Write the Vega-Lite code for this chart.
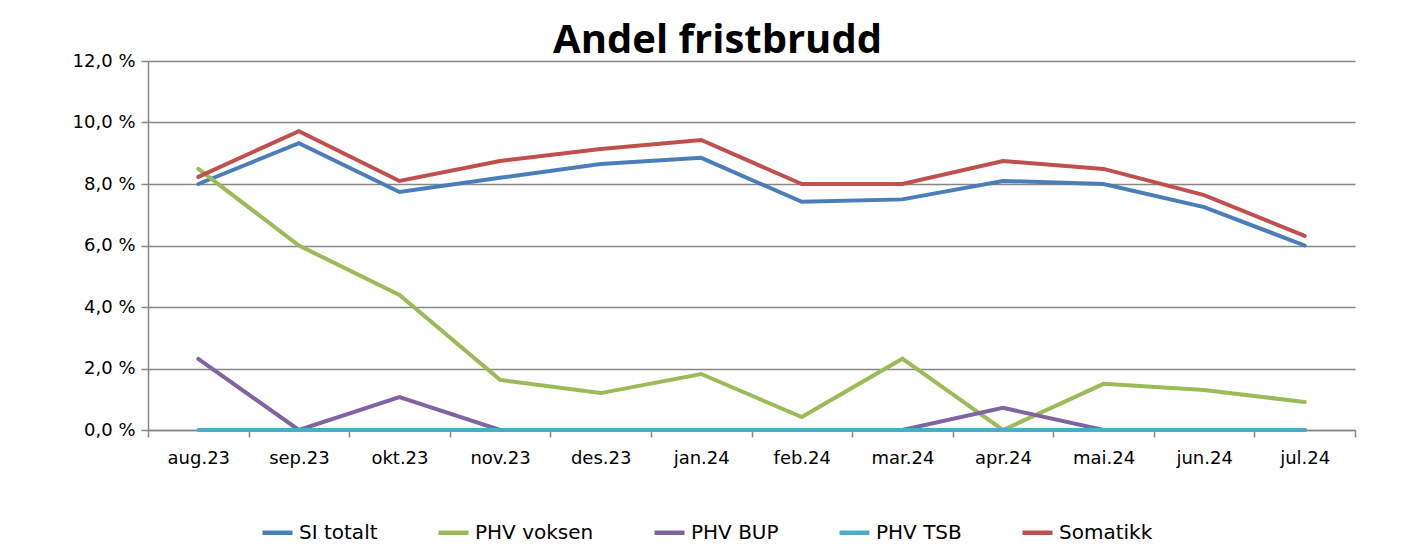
{
  "$schema": "https://vega.github.io/schema/vega-lite/v6.json",
  "width": 1207,
  "height": 369,
  "padding": {"left": 148, "top": 61, "right": 63, "bottom": 129},
  "autosize": {"type": "none"},
  "background": "white",
  "title": {
    "text": "Andel fristbrudd",
    "font": "Open Sans",
    "fontSize": 40,
    "fontWeight": "bold",
    "color": "#000000",
    "anchor": "start",
    "dx": 481,
    "dy": 51,
    "offset": 2,
    "baseline": "bottom"
  },
  "data": {
    "values": [
      {"mnd": "aug.23", "serie": "SI totalt", "v": 8.0},
      {"mnd": "sep.23", "serie": "SI totalt", "v": 9.33},
      {"mnd": "okt.23", "serie": "SI totalt", "v": 7.74},
      {"mnd": "nov.23", "serie": "SI totalt", "v": 8.2},
      {"mnd": "des.23", "serie": "SI totalt", "v": 8.65},
      {"mnd": "jan.24", "serie": "SI totalt", "v": 8.85},
      {"mnd": "feb.24", "serie": "SI totalt", "v": 7.42},
      {"mnd": "mar.24", "serie": "SI totalt", "v": 7.5},
      {"mnd": "apr.24", "serie": "SI totalt", "v": 8.1},
      {"mnd": "mai.24", "serie": "SI totalt", "v": 8.0},
      {"mnd": "jun.24", "serie": "SI totalt", "v": 7.25},
      {"mnd": "jul.24", "serie": "SI totalt", "v": 6.0},
      {"mnd": "aug.23", "serie": "PHV voksen", "v": 8.49},
      {"mnd": "sep.23", "serie": "PHV voksen", "v": 6.0},
      {"mnd": "okt.23", "serie": "PHV voksen", "v": 4.39},
      {"mnd": "nov.23", "serie": "PHV voksen", "v": 1.63},
      {"mnd": "des.23", "serie": "PHV voksen", "v": 1.2},
      {"mnd": "jan.24", "serie": "PHV voksen", "v": 1.82},
      {"mnd": "feb.24", "serie": "PHV voksen", "v": 0.42},
      {"mnd": "mar.24", "serie": "PHV voksen", "v": 2.32},
      {"mnd": "apr.24", "serie": "PHV voksen", "v": 0.0},
      {"mnd": "mai.24", "serie": "PHV voksen", "v": 1.5},
      {"mnd": "jun.24", "serie": "PHV voksen", "v": 1.3},
      {"mnd": "jul.24", "serie": "PHV voksen", "v": 0.91},
      {"mnd": "aug.23", "serie": "PHV BUP", "v": 2.31},
      {"mnd": "sep.23", "serie": "PHV BUP", "v": 0.0},
      {"mnd": "okt.23", "serie": "PHV BUP", "v": 1.07},
      {"mnd": "nov.23", "serie": "PHV BUP", "v": 0.0},
      {"mnd": "des.23", "serie": "PHV BUP", "v": 0.0},
      {"mnd": "jan.24", "serie": "PHV BUP", "v": 0.0},
      {"mnd": "feb.24", "serie": "PHV BUP", "v": 0.0},
      {"mnd": "mar.24", "serie": "PHV BUP", "v": 0.0},
      {"mnd": "apr.24", "serie": "PHV BUP", "v": 0.72},
      {"mnd": "mai.24", "serie": "PHV BUP", "v": 0.0},
      {"mnd": "jun.24", "serie": "PHV BUP", "v": 0.0},
      {"mnd": "jul.24", "serie": "PHV BUP", "v": 0.0},
      {"mnd": "aug.23", "serie": "PHV TSB", "v": 0.0},
      {"mnd": "sep.23", "serie": "PHV TSB", "v": 0.0},
      {"mnd": "okt.23", "serie": "PHV TSB", "v": 0.0},
      {"mnd": "nov.23", "serie": "PHV TSB", "v": 0.0},
      {"mnd": "des.23", "serie": "PHV TSB", "v": 0.0},
      {"mnd": "jan.24", "serie": "PHV TSB", "v": 0.0},
      {"mnd": "feb.24", "serie": "PHV TSB", "v": 0.0},
      {"mnd": "mar.24", "serie": "PHV TSB", "v": 0.0},
      {"mnd": "apr.24", "serie": "PHV TSB", "v": 0.0},
      {"mnd": "mai.24", "serie": "PHV TSB", "v": 0.0},
      {"mnd": "jun.24", "serie": "PHV TSB", "v": 0.0},
      {"mnd": "jul.24", "serie": "PHV TSB", "v": 0.0},
      {"mnd": "aug.23", "serie": "Somatikk", "v": 8.23},
      {"mnd": "sep.23", "serie": "Somatikk", "v": 9.72},
      {"mnd": "okt.23", "serie": "Somatikk", "v": 8.1},
      {"mnd": "nov.23", "serie": "Somatikk", "v": 8.75},
      {"mnd": "des.23", "serie": "Somatikk", "v": 9.14},
      {"mnd": "jan.24", "serie": "Somatikk", "v": 9.43},
      {"mnd": "feb.24", "serie": "Somatikk", "v": 8.0},
      {"mnd": "mar.24", "serie": "Somatikk", "v": 8.0},
      {"mnd": "apr.24", "serie": "Somatikk", "v": 8.75},
      {"mnd": "mai.24", "serie": "Somatikk", "v": 8.49},
      {"mnd": "jun.24", "serie": "Somatikk", "v": 7.64},
      {"mnd": "jul.24", "serie": "Somatikk", "v": 6.31}
    ]
  },
  "mark": {"type": "line", "strokeWidth": 4, "strokeCap": "round", "strokeJoin": "miter"},
  "encoding": {
    "x": {
      "field": "mnd",
      "type": "ordinal",
      "sort": null,
      "scale": {"type": "band", "paddingInner": 0, "paddingOuter": 0},
      "axis": {
        "title": null,
        "labelAngle": 0,
        "tickBand": "extent",
        "tickSize": 7,
        "tickColor": "#868686",
        "tickWidth": 1.5,
        "domainColor": "#868686",
        "domainWidth": 1.5,
        "labelFont": "DejaVu Sans",
        "labelFontSize": 18,
        "labelColor": "#000000",
        "labelPadding": 12,
        "grid": false
      }
    },
    "y": {
      "field": "v",
      "type": "quantitative",
      "scale": {"domain": [0, 12], "nice": false},
      "axis": {
        "title": null,
        "values": [0, 2, 4, 6, 8, 10, 12],
        "labelExpr": "replace(format(datum.value, '.1f'), '.', ',') + ' %'",
        "grid": true,
        "gridColor": "#868686",
        "gridWidth": 1.5,
        "tickColor": "#868686",
        "tickWidth": 1.5,
        "tickSize": 7,
        "domainColor": "#868686",
        "domainWidth": 1.5,
        "labelFont": "DejaVu Sans",
        "labelFontSize": 18,
        "labelColor": "#000000",
        "labelPadding": 6
      }
    },
    "color": {
      "field": "serie",
      "type": "nominal",
      "sort": ["SI totalt", "PHV voksen", "PHV BUP", "PHV TSB", "Somatikk"],
      "scale": {
        "domain": ["SI totalt", "PHV voksen", "PHV BUP", "PHV TSB", "Somatikk"],
        "range": ["#4A7EBB", "#9BBB59", "#8064A2", "#4BACC6", "#C0504D"]
      },
      "legend": {
        "title": null,
        "orient": "none",
        "legendX": 112,
        "legendY": 454,
        "direction": "horizontal",
        "symbolType": "stroke",
        "symbolSize": 900,
        "symbolStrokeWidth": 4.5,
        "labelFont": "DejaVu Sans",
        "labelFontSize": 20,
        "labelColor": "#000000",
        "columnPadding": 51,
        "labelOffset": 4
      }
    },
    "order": {"field": "serie"}
  },
  "config": {
    "view": {"stroke": null}
  }
}
